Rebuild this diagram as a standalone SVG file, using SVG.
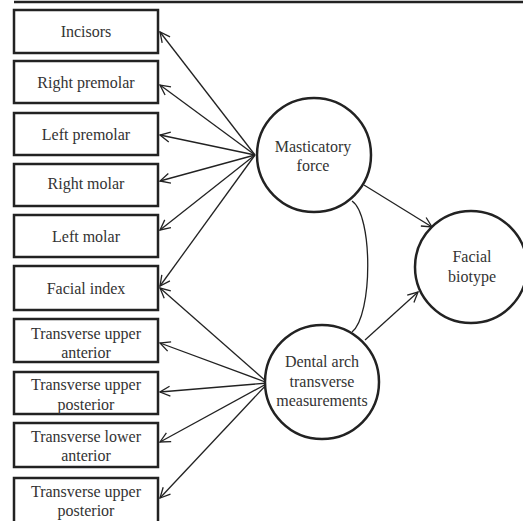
<svg xmlns="http://www.w3.org/2000/svg" width="523" height="521" viewBox="0 0 523 521">
<defs>
<marker id="arr" viewBox="0 0 12 12" refX="11" refY="6" markerWidth="12" markerHeight="12" markerUnits="userSpaceOnUse" orient="auto">
<path d="M1,1 L11,6 L1,11" fill="none" stroke="#222" stroke-width="1.3"/>
</marker>
<style>
.box{fill:#fff;stroke:#222;stroke-width:2.5}
.circ{fill:#fff;stroke:#222;stroke-width:2.5}
.t{font-family:"Liberation Serif","Times New Roman",serif;font-size:16px;fill:#333;text-anchor:middle}
.c{fill:none;stroke:#222;stroke-width:1.3}
.a{fill:none;stroke:#222;stroke-width:1.3;marker-end:url(#arr)}
</style>
</defs>
<rect width="523" height="521" fill="#fff"/>
<line x1="14" y1="2" x2="523" y2="2" stroke="#222" stroke-width="2.5"/>
<g id="connectors">
<line class="a" x1="255" y1="155" x2="160" y2="32"/>
<line class="a" x1="255" y1="155" x2="160" y2="85"/>
<line class="a" x1="255" y1="155" x2="160" y2="135"/>
<line class="a" x1="255" y1="155" x2="160" y2="181"/>
<line class="a" x1="255" y1="155" x2="160" y2="230"/>
<line class="a" x1="255" y1="155" x2="160" y2="286"/>
<line class="a" x1="268" y1="383" x2="160" y2="288"/>
<line class="a" x1="268" y1="383" x2="160" y2="343"/>
<line class="a" x1="268" y1="383" x2="160" y2="392"/>
<line class="a" x1="268" y1="383" x2="160" y2="442"/>
<line class="a" x1="268" y1="383" x2="160" y2="498"/>
<path class="c" d="M352,201 C373,215 373,315 352,332"/>
<line class="a" x1="364" y1="185" x2="432" y2="227"/>
<line class="a" x1="365" y1="340" x2="418" y2="292"/>
</g>
<g id="incisors"><rect class="box" x="14" y="10" width="144" height="43"/><text class="t" x="86" y="37">Incisors</text></g>
<g id="right-premolar"><rect class="box" x="14" y="61" width="144" height="42"/><text class="t" x="86" y="88">Right premolar</text></g>
<g id="left-premolar"><rect class="box" x="14" y="113" width="144" height="42"/><text class="t" x="86" y="140">Left premolar</text></g>
<g id="right-molar"><rect class="box" x="14" y="164" width="144" height="42"/><text class="t" x="86" y="189">Right molar</text></g>
<g id="left-molar"><rect class="box" x="14" y="215" width="144" height="42"/><text class="t" x="86" y="242">Left molar</text></g>
<g id="facial-index"><rect class="box" x="14" y="266" width="144" height="44"/><text class="t" x="86" y="294">Facial index</text></g>
<g id="tua"><rect class="box" x="14" y="319" width="144" height="43"/><text class="t" x="86" y="339">Transverse upper</text><text class="t" x="86" y="358">anterior</text></g>
<g id="tup"><rect class="box" x="14" y="372" width="144" height="42"/><text class="t" x="86" y="390">Transverse upper</text><text class="t" x="86" y="410">posterior</text></g>
<g id="tla"><rect class="box" x="14" y="423" width="144" height="44"/><text class="t" x="86" y="442">Transverse lower</text><text class="t" x="86" y="461">anterior</text></g>
<g id="tup2"><rect class="box" x="14" y="478" width="144" height="50"/><text class="t" x="86" y="497">Transverse upper</text><text class="t" x="86" y="516">posterior</text></g>
<g id="masticatory"><circle class="circ" cx="314" cy="155" r="57"/><text class="t" x="313" y="152">Masticatory</text><text class="t" x="313" y="171">force</text></g>
<g id="facial-biotype"><circle class="circ" cx="471" cy="267" r="56"/><text class="t" x="472" y="262">Facial</text><text class="t" x="472" y="282">biotype</text></g>
<g id="dental-arch"><circle class="circ" cx="322" cy="382" r="57"/><text class="t" x="322" y="367">Dental arch</text><text class="t" x="322" y="387">transverse</text><text class="t" x="322" y="406">measurements</text></g>
</svg>
